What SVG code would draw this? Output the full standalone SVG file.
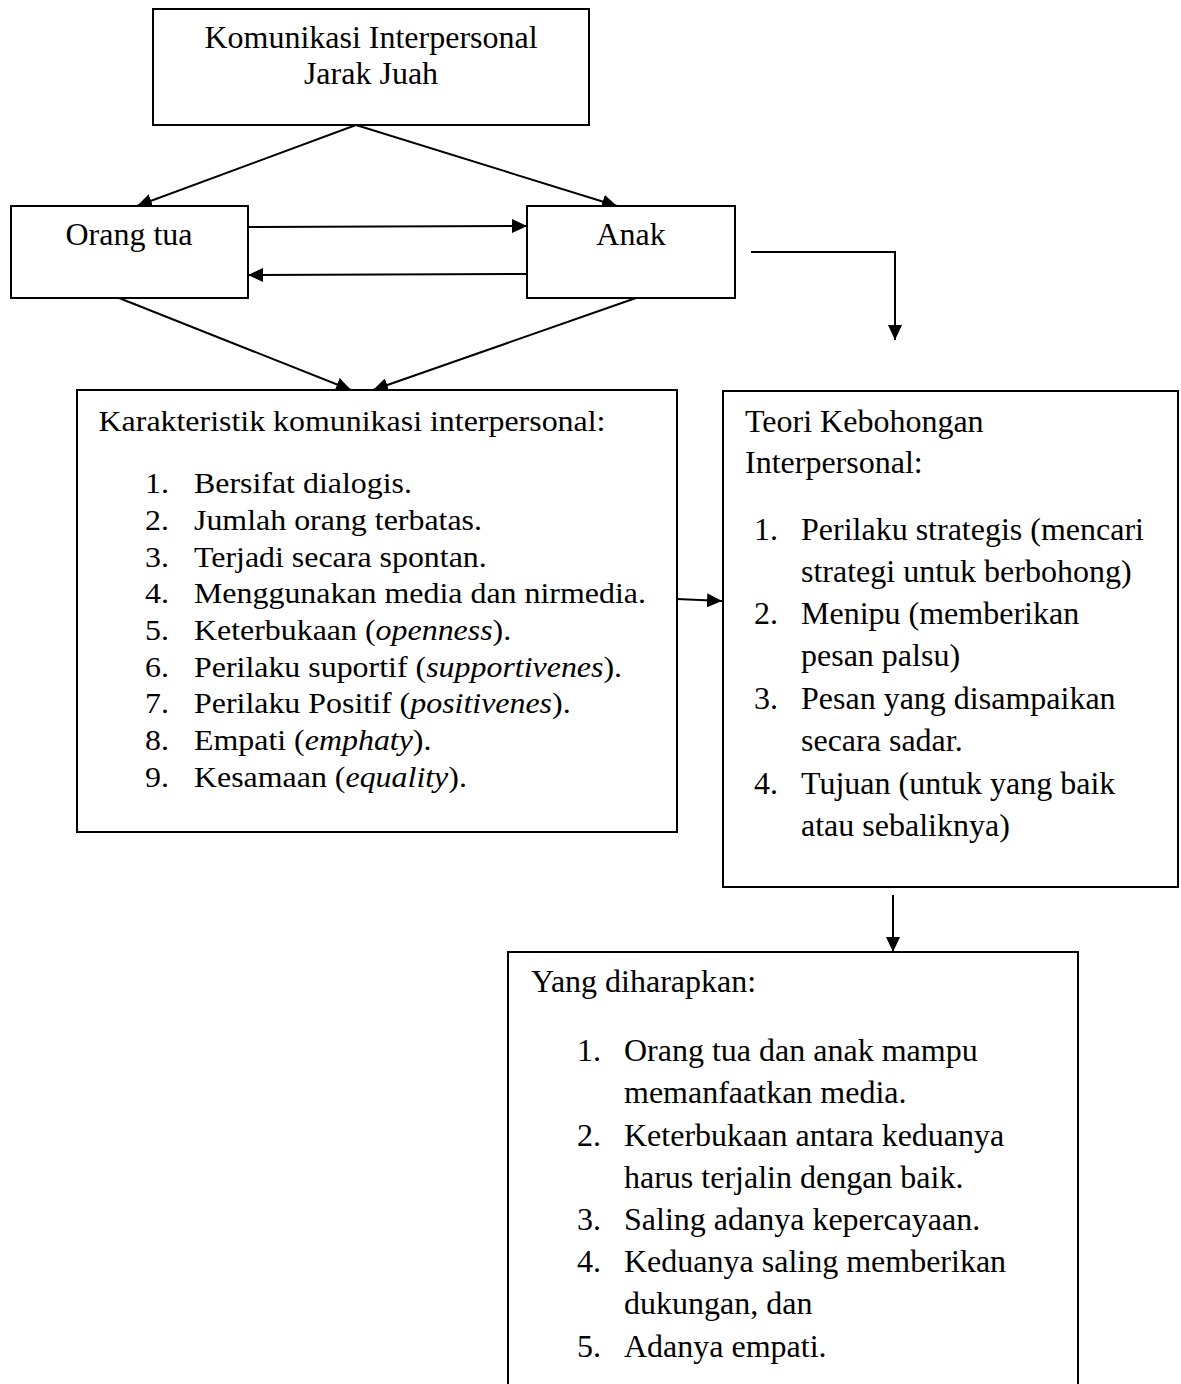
<svg xmlns="http://www.w3.org/2000/svg" width="1181" height="1384" viewBox="0 0 1181 1384">
<style>
.box{fill:#fff;stroke:#000;stroke-width:2}
.t{font-family:"Liberation Serif","Times New Roman",serif;font-size:32px;fill:#000}
.k{font-family:"Liberation Serif","Times New Roman",serif;font-size:28.5px;fill:#000}
.c{text-anchor:middle}
.i{font-style:italic}
.ln{stroke:#000;stroke-width:2;fill:none;marker-end:url(#ah)}
</style>
<defs>
<marker id="ah" markerUnits="userSpaceOnUse" markerWidth="16" markerHeight="14" refX="15" refY="7" orient="auto">
<path d="M0,0 L15,7 L0,14 z" fill="#000"/>
</marker>
</defs>
<rect width="1181" height="1384" fill="#fff"/>
<g id="connectors">
<line class="ln" x1="356" y1="125" x2="137" y2="206"/>
<line class="ln" x1="356" y1="125" x2="617" y2="206"/>
<line class="ln" x1="248" y1="227" x2="527" y2="226"/>
<line class="ln" x1="527" y1="274" x2="248" y2="275"/>
<line class="ln" x1="119" y1="298" x2="351" y2="390"/>
<line class="ln" x1="636" y1="298" x2="373" y2="390"/>
<polyline class="ln" points="751,252 895,252 895,340"/>
<line class="ln" x1="677" y1="599" x2="722" y2="601"/>
<line class="ln" x1="893" y1="895" x2="893" y2="952"/>
</g>
<g id="node-top">
<rect class="box" x="153" y="9" width="436" height="116"/>
<text class="t c" x="371" y="48">Komunikasi Interpersonal</text>
<text class="t c" x="371" y="84">Jarak Juah</text>
</g>
<g id="node-orangtua">
<rect class="box" x="11" y="206" width="237" height="92"/>
<text class="t c" x="129" y="245">Orang tua</text>
</g>
<g id="node-anak">
<rect class="box" x="527" y="206" width="208" height="92"/>
<text class="t c" x="631" y="245">Anak</text>
</g>
<g id="node-karakteristik">
<rect class="box" x="77" y="390" width="600" height="442"/>
<g transform="scale(1.12 1)">
<text class="k" x="88" y="431">Karakteristik komunikasi interpersonal:</text>
<g class="k">
<text x="129.5" y="493">1.</text><text x="173.2" y="493">Bersifat dialogis.</text>
<text x="129.5" y="530">2.</text><text x="173.2" y="530">Jumlah orang terbatas.</text>
<text x="129.5" y="567">3.</text><text x="173.2" y="567">Terjadi secara spontan.</text>
<text x="129.5" y="603">4.</text><text x="173.2" y="603">Menggunakan media dan nirmedia.</text>
<text x="129.5" y="640">5.</text><text x="173.2" y="640">Keterbukaan (<tspan class="i">openness</tspan>).</text>
<text x="129.5" y="677">6.</text><text x="173.2" y="677">Perilaku suportif (<tspan class="i">supportivenes</tspan>).</text>
<text x="129.5" y="713">7.</text><text x="173.2" y="713">Perilaku Positif (<tspan class="i">positivenes</tspan>).</text>
<text x="129.5" y="750">8.</text><text x="173.2" y="750">Empati (<tspan class="i">emphaty</tspan>).</text>
<text x="129.5" y="787">9.</text><text x="173.2" y="787">Kesamaan (<tspan class="i">equality</tspan>).</text>
</g>
</g>
</g>
<g id="node-teori">
<rect class="box" x="723" y="391" width="455" height="496"/>
<g class="t">
<text x="745" y="432">Teori Kebohongan</text>
<text x="745" y="473">Interpersonal:</text>
<text x="754" y="540">1.</text><text x="801" y="540">Perilaku strategis (mencari</text>
<text x="801" y="582">strategi untuk berbohong)</text>
<text x="754" y="624">2.</text><text x="801" y="624">Menipu (memberikan</text>
<text x="801" y="666">pesan palsu)</text>
<text x="754" y="709">3.</text><text x="801" y="709">Pesan yang disampaikan</text>
<text x="801" y="751">secara sadar.</text>
<text x="754" y="794">4.</text><text x="801" y="794">Tujuan (untuk yang baik</text>
<text x="801" y="836">atau sebaliknya)</text>
</g>
</g>
<g id="node-harapan">
<rect class="box" x="508" y="952" width="570" height="460"/>
<g class="t">
<text x="531" y="992">Yang diharapkan:</text>
<text x="577" y="1061">1.</text><text x="624" y="1061">Orang tua dan anak mampu</text>
<text x="624" y="1103">memanfaatkan media.</text>
<text x="577" y="1146">2.</text><text x="624" y="1146">Keterbukaan antara keduanya</text>
<text x="624" y="1188">harus terjalin dengan baik.</text>
<text x="577" y="1230">3.</text><text x="624" y="1230">Saling adanya kepercayaan.</text>
<text x="577" y="1272">4.</text><text x="624" y="1272">Keduanya saling memberikan</text>
<text x="624" y="1314">dukungan, dan</text>
<text x="577" y="1357">5.</text><text x="624" y="1357">Adanya empati.</text>
</g>
</g>
</svg>
